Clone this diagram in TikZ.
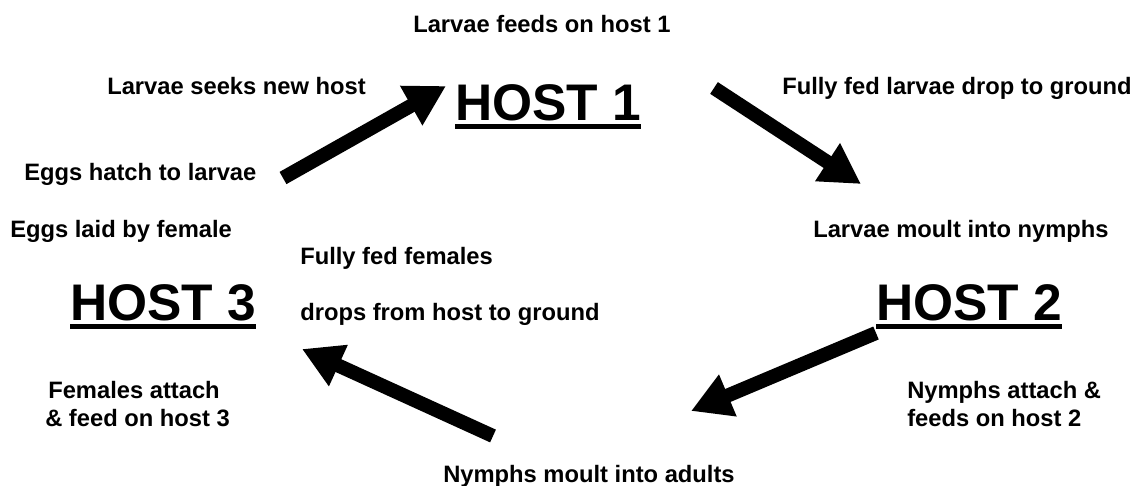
\documentclass[tikz,border=0pt]{standalone}
\usepackage{fontspec}
\setmainfont{Liberation Sans}
\usetikzlibrary{arrows.meta}
\tikzset{
  lbl/.style={anchor=base west, inner sep=0pt, font=\fontsize{17.8}{20}\selectfont\bfseries},
  hostlbl/.style={anchor=base west, inner sep=0pt, font=\fontsize{38.6}{40}\selectfont\bfseries},
  uline/.style={line width=3.75pt},
  bigarrow/.style={line width=10.5pt, -{Triangle[length=30pt,width=32pt]}}
}
\begin{document}
\begin{tikzpicture}[x=0.75pt,y=-0.75pt]
\useasboundingbox (0,0) rectangle (1137,485);
\clip (0,0) rectangle (1137,485);
% texts
\node[lbl] (t1) at (413,33) {Larvae feeds on host 1};
\node[hostlbl] (h1) at (455,120) {HOST 1};
\node[lbl] (t2) at (107,94) {Larvae seeks new host};
\node[lbl] (t3) at (782,94) {Fully fed larvae drop to ground};
\node[lbl] (t4) at (24,180) {Eggs hatch to larvae};
\node[lbl] (t5) at (10,237) {Eggs laid by female};
\node[lbl] (t6) at (813,237) {Larvae moult into nymphs};
\node[lbl] (t7) at (300,264) {Fully fed females};
\node[hostlbl] (h3) at (70,320) {HOST 3};
\node[lbl] (t8) at (300,320) {drops from host to ground};
\node[hostlbl] (h2) at (876,320) {HOST 2};
\node[lbl] (t9) at (48,398) {Females attach};
\node[lbl] (t10) at (45,426) {\& feed on host 3};
\node[lbl] (t11) at (907,398) {Nymphs attach \&};
\node[lbl] (t12) at (907,426) {feeds on host 2};
\node[lbl] (t13) at (443,482) {Nymphs moult into adults};
% underlines
\foreach \h in {h1,h2,h3}
  \draw[uline] ([yshift=-4.8pt]\h.base west) -- ([yshift=-4.8pt]\h.base east);
% arrow ends
\coordinate (a1s) at (283,178);
\coordinate (a1e) at (446,86);
\coordinate (a2s) at (714,88);
\coordinate (a2e) at (861,184);
\coordinate (a3s) at (876,333);
\coordinate (a3e) at (691,411);
\coordinate (a4s) at (493,436);
\coordinate (a4e) at (302,349);
\draw[bigarrow] (a1s) -- (a1e);
\draw[bigarrow] (a2s) -- (a2e);
\draw[bigarrow] (a3s) -- (a3e);
\draw[bigarrow] (a4s) -- (a4e);
\end{tikzpicture}
\end{document}
